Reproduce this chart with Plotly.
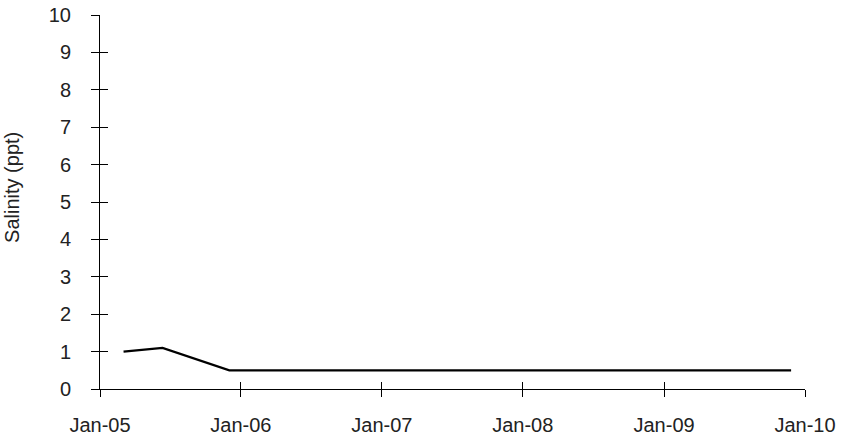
import plotly.graph_objects as go

dates = ["2005-03-03", "2005-06-12", "2005-12-02", "2009-11-26"]
salinity = [1.0, 1.1, 0.5, 0.5]

x_range = ["2005-01-01", "2010-01-01"]
y_range = [0, 10]
y_title = "Salinity (ppt)"

# overlay axes carry the inner half of the crossing ticks; a hair wider range keeps end ticks
x2_range = ["2005-01-01", "2010-01-01 02:00"]
y2_range = [0, 10.001]

font = dict(family="Liberation Sans, Arial, sans-serif", size=20, color="#222222")

fig = go.Figure()
fig.add_trace(go.Scatter(x=dates, y=salinity, mode="lines",
                         line=dict(color="#000000", width=2.2),
                         showlegend=False, hoverinfo="skip"))
fig.add_trace(go.Scatter(x=dates, y=salinity, mode="lines", xaxis="x2", yaxis="y2",
                         line=dict(color="rgba(0,0,0,0)", width=0),
                         showlegend=False, hoverinfo="skip"))

tick_common_x = dict(type="date", tick0="2005-01-01", dtick="M12",
                     showgrid=False, zeroline=False, automargin=False)
tick_common_y = dict(dtick=1, tick0=0, showgrid=False, zeroline=False,
                     automargin=False)

fig.update_layout(
    width=843, height=435,
    margin=dict(l=100, r=38, t=15, b=46, autoexpand=False),
    paper_bgcolor="white", plot_bgcolor="white",
    font=font,
    xaxis=dict(**tick_common_x, range=x_range, tickformat="%b-%y", ticks="outside",
               ticklen=7, tickwidth=1, tickcolor="black", showline=True,
               linecolor="black", linewidth=1, ticklabelstandoff=11, tickfont=font),
    yaxis=dict(**tick_common_y, range=y_range, ticks="outside", ticklen=8, tickwidth=1,
               tickcolor="black", showline=True, linecolor="black", linewidth=1,
               ticklabelstandoff=16, tickfont=font),
    xaxis2=dict(**tick_common_x, range=x2_range, overlaying="x", anchor="y2",
                ticks="inside", ticklen=7, tickwidth=1, tickcolor="black",
                showticklabels=False, showline=False),
    yaxis2=dict(**tick_common_y, range=y2_range, overlaying="y", anchor="x2",
                side="left", ticks="inside", ticklen=8, tickwidth=1,
                tickcolor="black", showticklabels=False, showline=False),
    annotations=[dict(text=y_title, textangle=-90, xref="paper", yref="paper",
                      x=-0.125, y=0.54, xanchor="center", yanchor="middle",
                      showarrow=False, font=font)],
)

fig.write_html("out.html", config={"displayModeBar": False},
               post_script="document.body.style.margin='0';document.body.style.overflow='hidden';")
